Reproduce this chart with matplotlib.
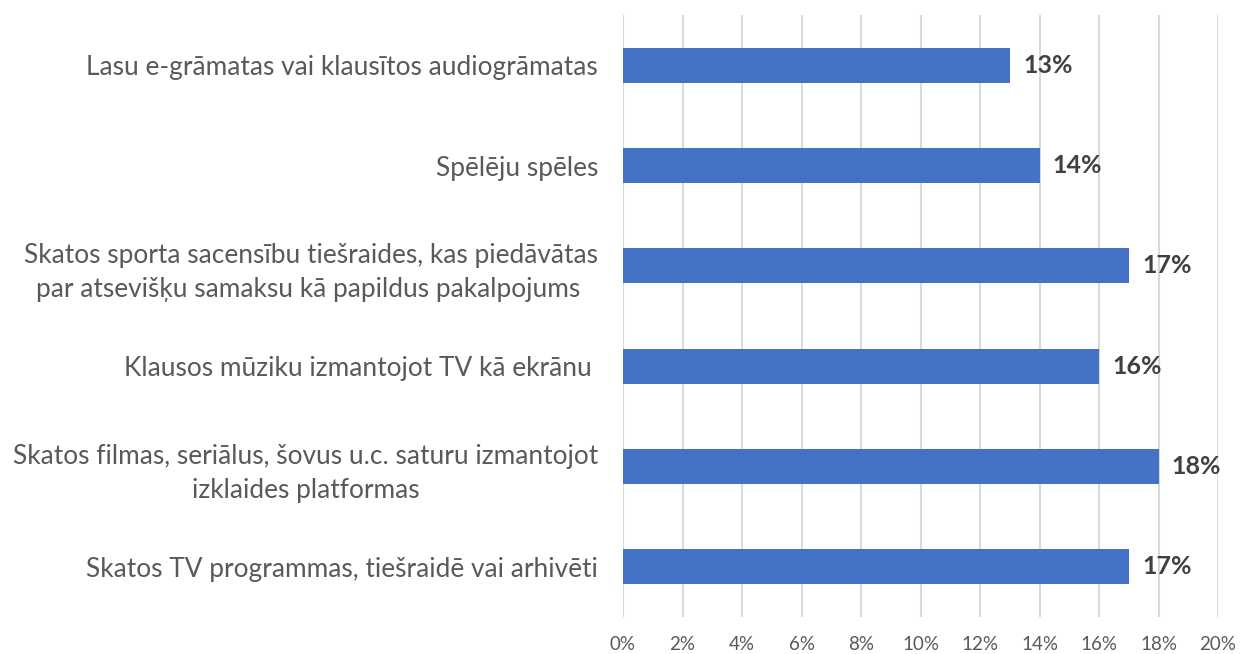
import matplotlib
matplotlib.use("Agg")
import matplotlib.pyplot as plt

categories = [
    "Skatos TV programmas, tiešraidē vai arhivēti",
    "Skatos filmas, seriālus, šovus u.c. saturu izmantojot\nizklaides platformas",
    "Klausos mūziku izmantojot TV kā ekrānu ",
    "Skatos sporta sacensību tiešraides, kas piedāvātas\npar atsevišķu samaksu kā papildus pakalpojums ",
    "Spēlēju spēles",
    "Lasu e-grāmatas vai klausītos audiogrāmatas",
]
values = [17, 18, 16, 17, 14, 13]
xticks = [0, 2, 4, 6, 8, 10, 12, 14, 16, 18, 20]

plt.rcParams['font.family'] = ['Lato', 'DejaVu Sans']

fig = plt.figure(figsize=(12.42, 6.54), dpi=100)
ax = fig.add_axes([623/1242, 1-617/654, (1218-623)/1242, (617-15)/654])

ypos = list(range(len(categories)))
ax.barh(ypos, values, height=0.35, color="#4472C4", zorder=3)
for y, v in zip(ypos, values):
    ax.text(v + 0.45, y, f"{v}%", va="center", ha="left", fontsize=18,
            fontweight="bold", color="#404040")

ax.set_xlim(0, 20)
ax.set_ylim(-0.5, len(categories) - 0.5)
ax.set_xticks(xticks)
ax.set_xticklabels([f"{t}%" for t in xticks], fontsize=13.5, color="#595959")
ax.set_yticks(ypos)
ax.set_yticklabels(categories, fontsize=18.9, color="#595959", multialignment="center",
                   linespacing=1.45)
ax.tick_params(axis="both", length=0)
ax.tick_params(axis="y", pad=18)
ax.tick_params(axis="x", pad=14)
ax.grid(axis="x", color="#D9D9D9", linewidth=1.5, zorder=0)
for s in ax.spines.values():
    s.set_visible(False)

fig.savefig("out.png", dpi=100)
